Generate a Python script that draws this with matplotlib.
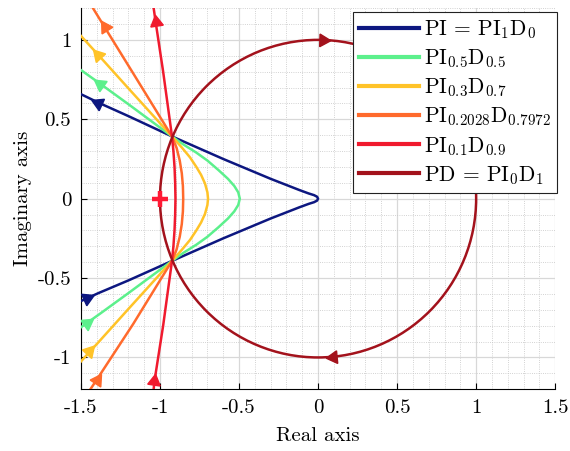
import numpy as np
import matplotlib
matplotlib.use("Agg")
from matplotlib import pyplot as plt
from matplotlib.ticker import MultipleLocator, FormatStrFormatter
from matplotlib.patches import Circle
from matplotlib.lines import Line2D

plt.rcParams['font.family'] = 'cmr10'
plt.rcParams['mathtext.fontset'] = 'cm'
plt.rcParams['axes.unicode_minus'] = False

# curves, listed from the lower end to the upper end (direction of travel)
pi_x = [-1.5, -1.39, -1.2, -0.924, -0.6, -0.3, -0.12, -0.06, -0.025, -0.006, 0.0,
        -0.006, -0.025, -0.06, -0.12, -0.3, -0.6, -0.924, -1.2, -1.39, -1.5]
pi_y = [-0.645, -0.595, -0.515, -0.392, -0.25, -0.125, -0.055, -0.033, -0.022, -0.012, 0.0,
        0.012, 0.022, 0.033, 0.055, 0.125, 0.25, 0.392, 0.52, 0.605, 0.658]

g_x = [-1.5, -1.38, -1.2, -0.924, -0.85, -0.77, -0.70, -0.63, -0.57, -0.53, -0.505, -0.495,
       -0.505, -0.53, -0.57, -0.63, -0.70, -0.77, -0.85, -0.924, -1.2, -1.38, -1.5]
g_y = [-0.81, -0.725, -0.595, -0.392, -0.34, -0.29, -0.24, -0.18, -0.125, -0.08, -0.04, 0.0,
       0.04, 0.08, 0.125, 0.18, 0.24, 0.29, 0.34, 0.392, 0.595, 0.725, 0.81]

y_x = [-1.5, -1.39, -1.2, -0.924, -0.86, -0.81, -0.77, -0.74, -0.715, -0.70, -0.696,
       -0.70, -0.715, -0.74, -0.77, -0.81, -0.86, -0.924, -1.2, -1.39, -1.5]
y_y = [-1.025, -0.905, -0.695, -0.392, -0.32, -0.26, -0.2, -0.15, -0.095, -0.04, 0.0,
       0.04, 0.095, 0.15, 0.2, 0.26, 0.32, 0.392, 0.695, 0.905, 1.025]

o_x = [-1.44, -1.40, -1.17, -0.924, -0.895, -0.875, -0.862, -0.855, -0.853,
       -0.855, -0.862, -0.875, -0.895, -0.924, -1.17, -1.35, -1.424]
o_y = [-1.2, -1.14, -0.79, -0.392, -0.32, -0.24, -0.16, -0.08, 0.0,
       0.08, 0.16, 0.24, 0.32, 0.392, 0.79, 1.08, 1.2]

r_x = [-1.04, -1.035, -0.98, -0.924, -0.915, -0.908, -0.904, -0.902,
       -0.904, -0.908, -0.915, -0.924, -0.98, -1.027, -1.04]
r_y = [-1.2, -1.15, -0.8, -0.392, -0.3, -0.2, -0.1, 0.0,
       0.1, 0.2, 0.3, 0.392, 0.8, 1.11, 1.2]

# PD = PI0D1 traces a circle (clockwise)
pd_center = (0.0, 0.0)
pd_radius = 1.0

# where the direction arrows sit on each curve
pi_arrows = [(-1.46, -0.625), (-1.39, 0.605)]
g_arrows = [(-1.46, -0.78), (-1.38, 0.725)]
y_arrows = [(-1.45, -0.96), (-1.39, 0.905)]
o_arrows = [(-1.40, -1.14), (-1.35, 1.08)]
r_arrows = [(-1.035, -1.15), (-1.027, 1.11)]
pd_arrows = [(0.03, 1.0), (0.095, -0.995)]

labels = [r'PI = PI$_1$D$_0$', r'PI$_{0.5}$D$_{0.5}$', r'PI$_{0.3}$D$_{0.7}$',
          r'PI$_{0.2028}$D$_{0.7972}$', r'PI$_{0.1}$D$_{0.9}$', r'PD = PI$_0$D$_1$']
colors = ['#0d1780', '#5cf08c', '#ffc328', '#ff6a2c', '#f01a2e', '#a3121c']

curves = [(pi_x, pi_y, pi_arrows), (g_x, g_y, g_arrows), (y_x, y_y, y_arrows),
          (o_x, o_y, o_arrows), (r_x, r_y, r_arrows)]

LW = 1.8
AMS = 10.5


def put_arrow(ax, px, py, ang, color):
    ax.plot(px, py, marker=(3, 0, ang - 90), ms=AMS, color=color,
            markeredgecolor=color, zorder=4)


def draw_arrow(ax, xs, ys, px, py, color):
    xs = np.asarray(xs)
    ys = np.asarray(ys)
    i = int(np.argmin((xs - px) ** 2 + (ys - py) ** 2))
    i0 = max(i - 1, 0)
    i1 = min(i + 1, len(xs) - 1)
    ang = np.degrees(np.arctan2(ys[i1] - ys[i0], xs[i1] - xs[i0]))
    put_arrow(ax, px, py, ang, color)


fig, ax = plt.subplots(figsize=(5.7, 4.51), dpi=100)
fig.subplots_adjust(left=0.142, right=0.974, bottom=0.137, top=0.982)

handles = []
for (cx, cy, arr), lab, col in zip(curves, labels[:5], colors[:5]):
    h, = ax.plot(cx, cy, color=col, lw=LW, label=lab, zorder=3)
    handles.append(h)
    for px, py in arr:
        draw_arrow(ax, cx, cy, px, py, col)

ax.add_patch(Circle(pd_center, pd_radius, fill=False, edgecolor=colors[5],
                    lw=LW, zorder=3))
for px, py in pd_arrows:
    # clockwise tangent
    ang = np.degrees(np.arctan2(-(px - pd_center[0]), py - pd_center[1]))
    put_arrow(ax, px, py, ang, colors[5])
handles.append(Line2D([], [], color=colors[5], lw=LW, label=labels[5]))

ax.plot(-1, 0, marker='+', ms=12, mew=3.2, color='#ff1a35', zorder=5)

ax.set_xlim(-1.5, 1.5)
ax.set_ylim(-1.2, 1.2)
ax.xaxis.set_major_locator(MultipleLocator(0.5))
ax.yaxis.set_major_locator(MultipleLocator(0.5))
ax.xaxis.set_minor_locator(MultipleLocator(0.1))
ax.yaxis.set_minor_locator(MultipleLocator(0.1))
ax.xaxis.set_major_formatter(FormatStrFormatter('%g'))
ax.yaxis.set_major_formatter(FormatStrFormatter('%g'))
ax.grid(True, which='major', color='#d8d8d8', lw=0.9, ls='-')
ax.grid(True, which='minor', color='#c4c4c4', lw=0.6, ls=':')
ax.set_axisbelow(True)
ax.spines['top'].set_visible(False)
ax.spines['right'].set_visible(False)
ax.tick_params(which='major', direction='in', length=4, labelsize=15, pad=7)
ax.tick_params(which='minor', length=0)

ax.set_xlabel('Real axis', fontsize=15, labelpad=7)
ax.set_ylabel('Imaginary axis', fontsize=15)

leg = ax.legend(handles=handles, loc='upper right', bbox_to_anchor=(1.004, 0.99),
                fontsize=15.5, frameon=True, fancybox=False,
                framealpha=1, edgecolor='#222222', handlelength=2.8,
                handletextpad=0.2, labelspacing=0.3, borderpad=0.3,
                borderaxespad=0.0)
leg.get_frame().set_linewidth(0.8)
for line in leg.get_lines():
    line.set_linewidth(3)

fig.savefig('out.png', dpi=100)
